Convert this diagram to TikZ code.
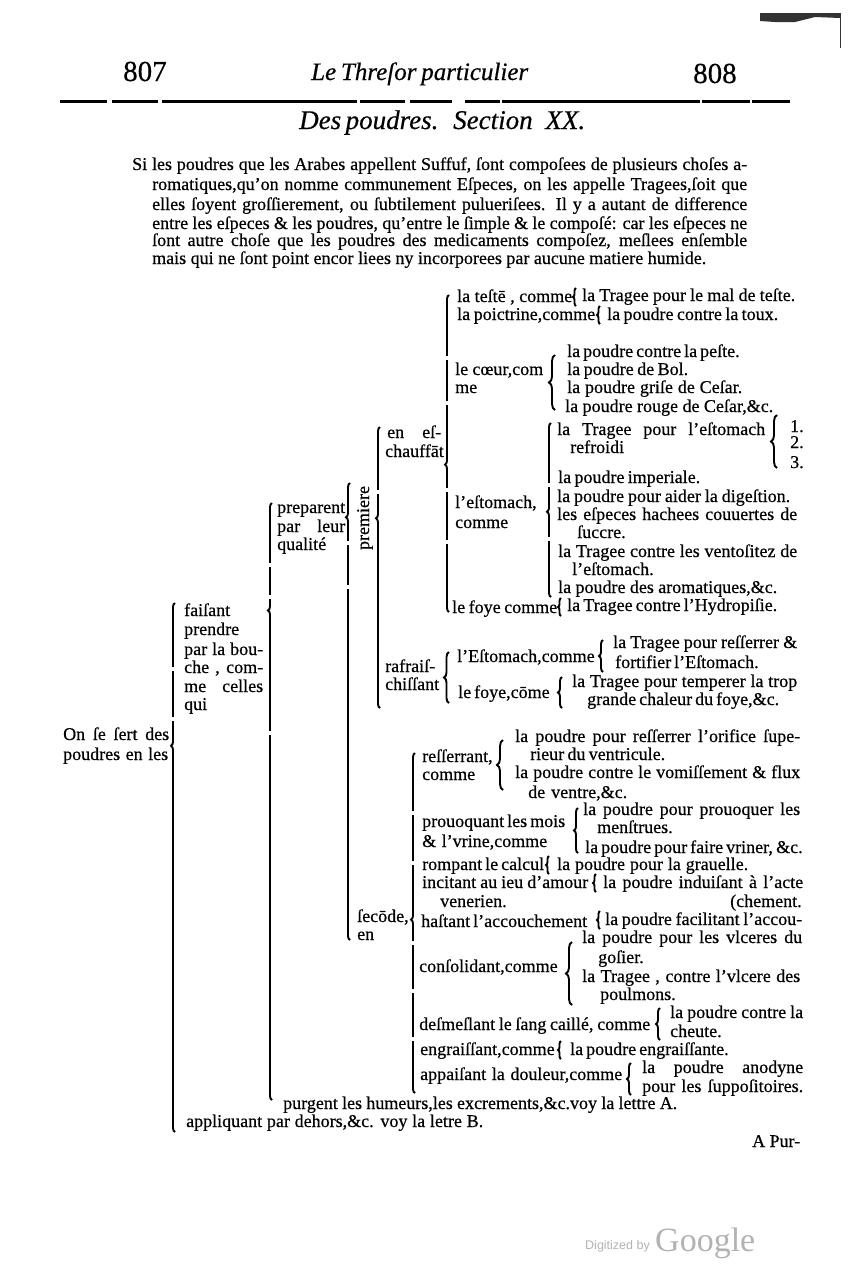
\documentclass[tikz,border=0pt]{standalone}
\usepackage{fontspec}
\setmainfont{Liberation Serif}[FakeBold=0.5]
\newfontfamily\digfont{Liberation Sans}
\newfontfamily\goofont{Liberation Serif}
\usetikzlibrary{decorations.pathreplacing}
\newcommand{\lig}[2]{\makebox[#1pt][s]{#2}}
\tikzset{x=1pt,y=-1pt}
\tikzset{txt/.style = {anchor=base west,inner sep=0pt,yshift=-5pt,font=\fontsize{18}{18}\selectfont}}
\tikzset{head/.style = {anchor=base west,inner sep=0pt,yshift=-7pt,font=\fontsize{27}{28}\selectfont\itshape}}
\tikzset{brc/.style = {decorate,decoration={brace,amplitude=#1},line width=1.9pt}}
\tikzset{brc/.default=4pt}
\begin{document}
\begin{tikzpicture}
    \useasboundingbox (0,0) rectangle (854,1280);
    \fill[black!80] (760,13) -- (840,13) -- (840,18) -- (815,17) -- (795,22) -- (775,22) -- (760,21) -- cycle;
    \draw[black!80,line width=0.8pt] (840,13) -- (840,48);

    % head of the page
    \node[head,font=\fontsize{29}{28}\selectfont] (pg1) at (123,74) {\lig{40}{807}};
    \node[head,font=\fontsize{25}{28}\selectfont\itshape] (titre) at (311,73) {\lig{217}{Le Threſor particulier}};
    \node[head,font=\fontsize{29}{28}\selectfont] (pg2) at (693,76) {\lig{40}{808}};
    \foreach \a/\b in {60/107,112/158,162/357,360/405,410/452,465/500,502/700,702/750,752/790}
        \draw[line width=3pt] (\a,101) -- (\b,101);
    \node[head] (des) at (299,122) {\lig{121}{Des poudres.}};
    \node[head] (sect) at (453,122) {\lig{132}{Section XX.}};

    % the paragraph
    \node[txt] (p1) at (132,165) {\lig{615}{Si les poudres que les Arabes appellent Suffuf, ſont compoſees de plusieurs choſes a-}};
    \node[txt] (p2) at (152,185) {\lig{595}{romatiques,qu'on nomme communement Eſpeces, on les appelle Tragees,ſoit que}};
    \node[txt] (p3) at (152,205) {\lig{595}{elles ſoyent groſſierement, ou ſubtilement pulueriſees. Il y a autant de difference}};
    \node[txt] (p4) at (152,224) {\lig{595}{entre les eſpeces \& les poudres, qu'entre le ſimple \& le compoſé: car les eſpeces ne}};
    \node[txt] (p5) at (152,241) {\lig{595}{ſont autre choſe que les poudres des medicaments compoſez, meſlees enſemble}};
    \node[txt] (p6) at (152,259) {\lig{554}{mais qui ne ſont point encor liees ny incorporees par aucune matiere humide.}};

    % first levels
    \node[txt] (on1) at (63,735) {\lig{106}{On ſe ſert des}};
    \node[txt] (on2) at (63,755) {\lig{105}{poudres en les}};
    \draw[brc,decoration={aspect=0.73}] (175,1132) -- (175,603);
    \node[txt] (fa1) at (184,611) {faiſant};
    \node[txt] (fa2) at (184,630) {prendre};
    \node[txt] (fa3) at (184,650) {\lig{79}{par la bou-}};
    \node[txt] (fa4) at (184,668) {\lig{79}{che , com-}};
    \node[txt] (fa5) at (184,687) {\lig{79}{me celles}};
    \node[txt] (fa6) at (184,705) {qui};
    \draw[brc,decoration={aspect=0.82}] (272,1100) -- (272,503);
    \node[txt] (pr1) at (277,508) {\lig{68}{preparent}};
    \node[txt] (pr2) at (277,527) {\lig{68}{par leur}};
    \node[txt] (pr3) at (277,545) {qualité};
    \draw[brc,decoration={aspect=0.925}] (350,940) -- (350,483);
    \node[txt,rotate=90,anchor=center,yshift=5pt] (prem) at (370,513) {premiere};
    \draw[brc,decoration={aspect=0.675}] (380,708) -- (380,427);
    \node[txt] (pu) at (283,1104) {\lig{394}{purgent les humeurs,les excrements,\&c.voy la lettre A.}};
    \node[txt] (ap) at (186,1122) {\lig{297}{appliquant par dehors,\&c. voy la letre B.}};

    % en eschauffant
    \node[txt] (en1) at (387,433) {\lig{54}{en eſ-}};
    \node[txt] (en2) at (385,452) {\lig{55}{chauffāt}};
    \draw[brc,decoration={aspect=0.465}] (449,612) -- (449,295);
    \node[txt] (te) at (457,297) {\lig{115}{la teſtē , comme}};
    \draw[brc=3pt] (576,306) -- (576,288);
    \node[txt] (te1) at (582,296) {\lig{213}{la Tragee pour le mal de teſte.}};
    \node[txt] (po) at (457,315) {\lig{138}{la poictrine,comme}};
    \draw[brc=3pt] (600,324) -- (600,306);
    \node[txt] (po1) at (607,315) {\lig{171}{la poudre contre la toux.}};
    \node[txt] (ce1) at (455,370) {\lig{88}{le cœur,com}};
    \node[txt] (ce2) at (455,388) {me};
    \draw[brc=6pt] (555,410) -- (555,355);
    \node[txt] (ce3) at (567,352) {\lig{171}{la poudre contre la peſte.}};
    \node[txt] (ce4) at (567,370) {\lig{121}{la poudre de Bol.}};
    \node[txt] (ce5) at (567,388) {\lig{175}{la poudre griſe de Ceſar.}};
    \node[txt] (ce6) at (565,407) {\lig{208}{la poudre rouge de Ceſar,\&c.}};
    \node[txt] (es1) at (455,503) {\lig{80}{l'eſtomach,}};
    \node[txt] (es2) at (455,523) {comme};
    \draw[brc,decoration={aspect=0.49}] (551,597) -- (551,423);
    \node[txt] (es3) at (557,430) {\lig{208}{la Tragee pour l'eſtomach}};
    \node[txt] (es4) at (570,448) {refroidi};
    \draw[brc=6pt] (777,468) -- (777,415);
    \node[txt] (n1) at (790,427) {1.};
    \node[txt] (n2) at (790,443) {2.};
    \node[txt] (n3) at (790,463) {3.};
    \node[txt] (es5) at (558,478) {\lig{142}{la poudre imperiale.}};
    \node[txt] (es6) at (557,497) {\lig{233}{la poudre pour aider la digeſtion.}};
    \node[txt] (es7) at (557,515) {\lig{240}{les eſpeces hachees couuertes de}};
    \node[txt] (es8) at (577,533) {ſuccre.};
    \node[txt] (es9) at (558,552) {\lig{239}{la Tragee contre les ventoſitez de}};
    \node[txt] (es10) at (572,570) {l'eſtomach.};
    \node[txt] (es11) at (558,588) {\lig{219}{la poudre des aromatiques,\&c.}};
    \node[txt] (fo) at (452,608) {\lig{105}{le foye comme}};
    \draw[brc=3pt] (561,616) -- (561,598);
    \node[txt] (fo1) at (567,606) {\lig{210}{la Tragee contre l'Hydropiſie.}};

    % rafraischissant
    \node[txt] (ra1) at (385,667) {rafraiſ-};
    \node[txt] (ra2) at (385,685) {chiſſant};
    \draw[brc=5pt] (449,703) -- (449,652);
    \node[txt] (rs) at (457,657) {\lig{136}{l'Eſtomach,comme}};
    \draw[brc=4pt] (603,672) -- (603,640);
    \node[txt] (rs1) at (613,643) {\lig{184}{la Tragee pour reſſerrer \&}};
    \node[txt] (rs2) at (615,663) {\lig{135}{fortifier l'Eſtomach.}};
    \node[txt] (rf) at (458,693) {\lig{90}{le foye,cōme}};
    \draw[brc=4pt] (562,708) -- (562,677);
    \node[txt] (rf1) at (572,682) {\lig{225}{la Tragee pour temperer la trop}};
    \node[txt] (rf2) at (587,700) {\lig{190}{grande chaleur du foye,\&c.}};

    % secondement
    \node[txt] (se1) at (357,917) {\lig{50}{ſecōde,}};
    \node[txt] (se2) at (357,935) {en};
    \draw[brc,decoration={aspect=0.51}] (415,1093) -- (415,753);
    \node[txt] (re1) at (422,757) {\lig{71}{reſſerrant,}};
    \node[txt] (re2) at (422,775) {comme};
    \draw[brc=6pt] (503,790) -- (503,740);
    \node[txt] (re3) at (515,737) {\lig{285}{la poudre pour reſſerrer l'orifice ſupe-}};
    \node[txt] (re4) at (530,755) {\lig{135}{rieur du ventricule.}};
    \node[txt] (re5) at (515,773) {\lig{285}{la poudre contre le vomiſſement \& flux}};
    \node[txt] (re6) at (528,793) {\lig{99}{de ventre,\&c.}};
    \node[txt] (mo1) at (422,822) {\lig{143}{prouoquant les mois}};
    \node[txt] (mo2) at (422,842) {\lig{125}{\& l'vrine,comme}};
    \draw[brc=4pt] (578,853) -- (578,808);
    \node[txt] (mo3) at (583,810) {\lig{217}{la poudre pour prouoquer les}};
    \node[txt] (mo4) at (597,828) {menſtrues.};
    \node[txt] (mo5) at (585,848) {\lig{215}{la poudre pour faire vriner, \&c.}};
    \node[txt] (ca) at (422,865) {\lig{115}{rompant le calcul}};
    \draw[brc=3pt] (549,874) -- (549,856);
    \node[txt] (ca1) at (557,865) {\lig{191}{la poudre pour la grauelle.}};
    \node[txt] (am) at (422,883) {\lig{166}{incitant au ieu d'amour}};
    \draw[brc=3pt] (596,892) -- (596,874);
    \node[txt] (am1) at (603,883) {\lig{200}{la poudre induiſant à l'acte}};
    \node[txt] (am2) at (440,902) {\lig{65}{venerien.}};
    \node[txt] (am3) at (730,902) {\lig{72}{(chement.}};
    \node[txt] (ha) at (421,922) {\lig{162}{haſtant l'accouchement}};
    \draw[brc=3pt] (600,929) -- (600,911);
    \node[txt] (ha1) at (605,920) {\lig{197}{la poudre facilitant l'accou-}};
    \node[txt] (co) at (419,967) {\lig{139}{conſolidant,comme}};
    \draw[brc=6pt] (572,1005) -- (572,942);
    \node[txt] (co1) at (582,938) {\lig{220}{la poudre pour les vlceres du}};
    \node[txt] (co2) at (598,958) {goſier.};
    \node[txt] (co3) at (582,977) {\lig{218}{la Tragee , contre l'vlcere des}};
    \node[txt] (co4) at (600,995) {poulmons.};
    \node[txt] (de) at (419,1025) {\lig{231}{deſmeſlant le ſang caillé, comme}};
    \draw[brc=4pt] (660,1040) -- (660,1008);
    \node[txt] (de1) at (670,1013) {\lig{133}{la poudre contre la}};
    \node[txt] (de2) at (670,1032) {cheute.};
    \node[txt] (gr) at (420,1050) {\lig{135}{engraiſſant,comme}};
    \draw[brc=3pt] (561,1059) -- (561,1041);
    \node[txt] (gr1) at (570,1050) {\lig{157}{la poudre engraiſſante.}};
    \node[txt] (dl) at (420,1075) {\lig{202}{appaiſant la douleur,comme}};
    \draw[brc=4pt] (631,1095) -- (631,1063);
    \node[txt] (dl1) at (642,1068) {\lig{161}{la poudre anodyne}};
    \node[txt] (dl2) at (642,1087) {\lig{161}{pour les ſuppoſitoires.}};
    \node[txt] (pur) at (752,1142) {\lig{48}{A Pur-}};

    % breaks in the long bars
    \foreach \bx/\gy in {175/667,175/717,272/563,272/595,272/731,350/541,350/585,380/490,449/356,449/401,449/488,449/540,551/483,551/537,415/811,415/861,415/941,415/989,415/1037}
        \fill[white] (\bx-3,\gy) rectangle (\bx+3,\gy+4);

    % mark of the scan
    \node[anchor=west,inner sep=0pt,text=black!30,font=\fontsize{12.5}{14}\digfont] (dig) at (585,1246) {Digitized by};
    \node[anchor=west,inner sep=0pt,text=black!30,font=\fontsize{34}{36}\goofont] (goo) at (655,1243) {Google};
\end{tikzpicture}
\end{document}
